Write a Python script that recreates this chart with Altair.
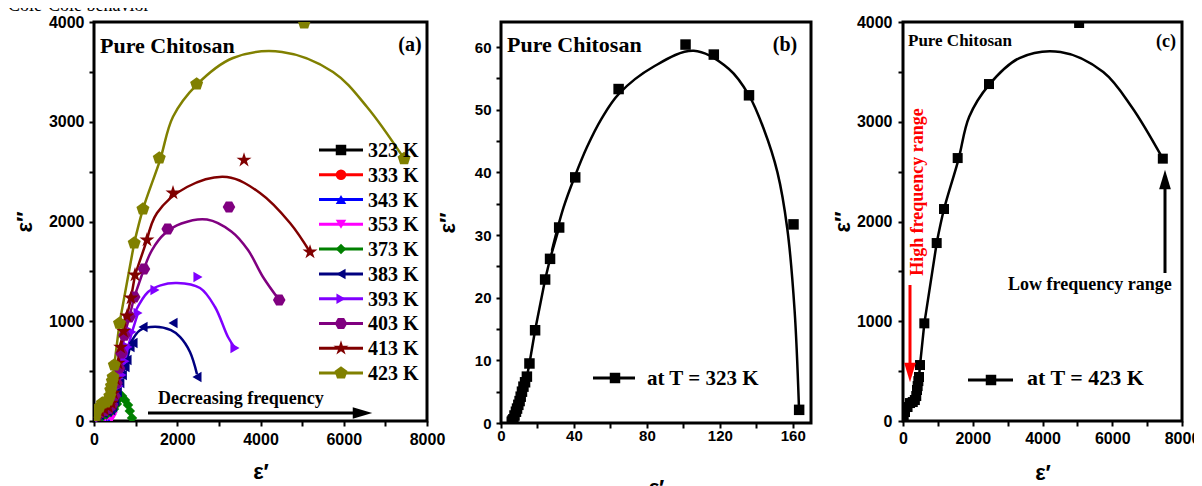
import altair as alt
import pandas as pd

# ---------------- categories / styles ----------------
TEMPS = ["323 K", "333 K", "343 K", "353 K", "373 K", "383 K", "393 K", "403 K", "413 K", "423 K"]
COLORS = ["#000000", "#ff0000", "#0000ff", "#ff00ff", "#008000", "#000080", "#8000ff", "#800080", "#800000", "#808000"]
HEX = "M1.2,0L0.6,1.04L-0.6,1.04L-1.2,0L-0.6,-1.04L0.6,-1.04Z"
STAR = ("M0,-1.5L0.34,-0.46L1.43,-0.46L0.54,0.18L0.88,1.21L0,0.57"
        "L-0.88,1.21L-0.54,0.18L-1.43,-0.46L-0.34,-0.46Z")
PENT = "M0,-1.3L1.24,-0.4L0.76,1.05L-0.76,1.05L-1.24,-0.4Z"
SHAPES = ["square", "circle", "triangle-up", "triangle-down", "diamond",
          "triangle-left", "triangle-right", HEX, STAR, PENT]

# ---------------- data (eps', eps'') ----------------
x323 = [5.9, 6.3, 6.8, 7.4, 8.2, 8.8, 9.5, 10.2, 10.8, 11.5, 12.3, 13.2, 14.2, 15.6, 18.7, 24.2, 26.9, 31.9,
        40.7, 64.5, 101.2, 116.7, 136.0, 160.4, 163.5]
y323 = [0.2, 0.4, 0.6, 1.2, 1.8, 2.3, 2.9, 3.5, 4.2, 5.0, 5.8, 6.5, 7.4, 9.5, 14.8, 22.9, 26.2, 31.2,
        39.2, 53.3, 60.4, 58.8, 52.3, 31.7, 2.1]
fx323 = [27.9, 34.3, 40.7, 47.1, 55.0, 64.5, 83.8, 105.7, 125.0, 136.0, 144.0, 151.6, 157.0, 161.0, 163.4]
fy323 = [27.5, 34.4, 39.5, 44.0, 48.5, 52.5, 56.9, 59.4, 56.5, 52.3, 47.0, 40.0, 31.0, 18.0, 2.5]

x333 = [15, 40, 80, 130, 180, 230, 280, 320, 345, 330]
y333 = [3, 8, 15, 22, 30, 38, 45, 50, 40, 25]
x343 = [15, 50, 100, 150, 200, 250, 290, 320, 300]
y343 = [3, 8, 14, 20, 27, 33, 38, 30, 15]
x353 = [20, 70, 130, 200, 270, 330, 380, 420, 440, 420]
y353 = [4, 10, 18, 26, 35, 45, 55, 60, 45, 25]
x373 = [20, 60, 120, 200, 300, 400, 480, 550, 620, 673, 745, 817, 860, 913]
y373 = [5, 15, 30, 45, 65, 90, 120, 170, 230, 250, 210, 160, 100, 30]

x383 = [20, 60, 130, 220, 320, 400, 450, 500, 560, 620, 680, 745, 793, 865, 937, 1177, 1898, 2474]
y383 = [8, 30, 60, 80, 95, 110, 140, 200, 290, 380, 460, 541, 611, 742, 782, 943, 982, 441]
fx383 = [865, 1105, 1465, 1850, 2066, 2306, 2474]
fy383 = [770, 910, 945, 910, 843, 692, 470]

x393 = [20, 60, 140, 240, 340, 420, 480, 540, 600, 673, 745, 817, 913, 1057, 1465, 2498, 3387]
y393 = [10, 35, 70, 95, 110, 130, 170, 250, 350, 461, 600, 742, 892, 1083, 1313, 1444, 732]
fx393 = [985, 1297, 1600, 1994, 2547, 2907, 3219, 3387]
fy393 = [1093, 1293, 1360, 1383, 1333, 1143, 842, 732]

x403 = [20, 60, 150, 250, 350, 430, 490, 540, 600, 660, 730, 850, 966, 1200, 1770, 3243, 4450]
y403 = [12, 45, 85, 105, 125, 160, 250, 380, 530, 680, 860, 1043, 1243, 1524, 1925, 2146, 1213]
fx403 = [1200, 1393, 1700, 2100, 2715, 3300, 3700, 4060, 4450]
fy403 = [1524, 1714, 1880, 1980, 2020, 1900, 1714, 1444, 1213]

x413 = [20, 60, 150, 250, 350, 420, 470, 520, 580, 640, 710, 793, 889, 985, 1273, 1898, 3604, 5190]
y413 = [15, 50, 95, 120, 140, 180, 280, 420, 580, 740, 900, 1053, 1233, 1464, 1815, 2286, 2616, 1694]
fx413 = [1273, 1514, 2234, 3195, 3988, 4709, 5190]
fy413 = [1815, 2085, 2346, 2446, 2286, 1985, 1694]

x423 = [20, 57, 130, 201, 280, 340, 380, 402, 420, 440, 459, 488, 612, 966, 1176, 1568, 2466, 5050, 7450]
y423 = [30, 90, 140, 180, 190, 210, 250, 311, 350, 400, 441, 561, 979, 1784, 2125, 2636, 3378, 3990, 2630]
fx423 = [966, 1177, 1586, 1898, 2466, 3339, 4516, 5742, 6559, 7450]
fy423 = [1784, 2125, 2616, 3050, 3370, 3639, 3700, 3499, 3148, 2630]

# (label, x, y, number of leading markers joined by straight segments, fit x, fit y)
SERIES = [
    ("323 K", x323, y323, 18, fx323, fy323),
    ("333 K", x333, y333, len(x333), [], []),
    ("343 K", x343, y343, len(x343), [], []),
    ("353 K", x353, y353, len(x353), [], []),
    ("373 K", x373, y373, len(x373), [], []),
    ("383 K", x383, y383, 14, fx383, fy383),
    ("393 K", x393, y393, 14, fx393, fy393),
    ("403 K", x403, y403, 14, fx403, fy403),
    ("413 K", x413, y413, 15, fx413, fy413),
    ("423 K", x423, y423, 14, fx423, fy423),
]


def rows(label, xs, ys):
    return pd.DataFrame({"T": [label] * len(xs), "x": xs, "y": ys, "i": list(range(len(xs)))})


def build(series):
    pts = pd.concat([rows(s[0], s[1], s[2]) for s in series], ignore_index=True)
    seg = pd.concat([rows(s[0], s[1][:s[3]], s[2][:s[3]]) for s in series], ignore_index=True)
    fit = pd.concat([rows(s[0], s[4], s[5]) for s in series if s[4]], ignore_index=True)
    return pts, seg, fit


SERIF = "Liberation Serif"
SANS = "Liberation Sans"

color_enc = alt.Color("T:N", scale=alt.Scale(domain=TEMPS, range=COLORS), legend=None)
shape_enc = alt.Shape("T:N", scale=alt.Scale(domain=TEMPS, range=SHAPES), legend=None)


def axis(step, major, top, title, lsize, lpad, tpad, tsize=22):
    n = int(round(top / step))
    values = [round(k * step, 6) for k in range(n + 1)]
    return alt.Axis(values=values, title=title, format="d",
                    labelExpr=f"datum.value % {major} == 0 ? datum.label : ''",
                    labelFont=SANS, labelFontWeight="bold",
                    labelFontSize=lsize, labelColor="black", labelPadding=lpad, labelFlush=False,
                    labelOverlap=False, titleFont=SANS, titleFontWeight="bold", titleFontSize=tsize,
                    titleColor="black", titlePadding=tpad, tickColor="black", tickWidth=2, tickSize=5,
                    domain=False, grid=False)


def text_layer(txt, x, y, size, color="black", align="left", angle=0, baseline="alphabetic", weight="bold"):
    d = pd.DataFrame({"t": [txt]})
    return alt.Chart(d).mark_text(font=SERIF, fontWeight=weight, fontSize=size, color=color, align=align,
                                  baseline=baseline, angle=angle).encode(
        x=alt.value(x), y=alt.value(y), text="t:N")


def arrow_h(x1, x2, y, color="black"):
    d = pd.DataFrame({"a": [0]})
    shaft = alt.Chart(d).mark_rule(color=color, strokeWidth=3).encode(
        x=alt.value(x1), x2=alt.value(x2 - 14), y=alt.value(y))
    head = alt.Chart(d).mark_point(filled=True, opacity=1, color=color, size=380,
                                   shape="M-1,-0.6L1,0L-1,0.6Z").encode(x=alt.value(x2 - 9.5), y=alt.value(y))
    return [shaft, head]


def arrow_v(x, y_from, y_tip, color="black"):
    d = pd.DataFrame({"a": [0]})
    down = y_tip > y_from
    base = y_tip - 14 if down else y_tip + 14
    shaft = alt.Chart(d).mark_rule(color=color, strokeWidth=3).encode(
        x=alt.value(x), y=alt.value(y_from), y2=alt.value(base))
    path = "M-0.6,-1L0,1L0.6,-1Z" if down else "M-0.6,1L0,-1L0.6,1Z"
    head = alt.Chart(d).mark_point(filled=True, opacity=1, color=color, size=380, shape=path).encode(
        x=alt.value(x), y=alt.value(y_tip - 9.5 if down else y_tip + 9.5))
    return [shaft, head]


FIT = "catmull-rom"

# ---------------- panel (a) ----------------
pts_a, seg_a, fit_a = build(SERIES)
xa = alt.X("x:Q", scale=alt.Scale(domain=[0, 8000], nice=False),
           axis=axis(1000, 2000, 8000, "ε′", 16, 5, 14))
ya = alt.Y("y:Q", scale=alt.Scale(domain=[0, 4000], nice=False),
           axis=axis(500, 1000, 4000, "ε″", 16, 5, 12))

seg_layer = alt.Chart(seg_a).mark_line(strokeWidth=2.5).encode(x=xa, y=ya, color=color_enc, order="i:Q")
fit_layer = alt.Chart(fit_a).mark_line(strokeWidth=2.5, interpolate=FIT).encode(
    x=xa, y=ya, color=color_enc, order="i:Q")
pt_layer = alt.Chart(pts_a).mark_point(filled=True, opacity=1, size=110, clip=True).encode(
    x=xa, y=ya, color=color_enc, shape=shape_enc)

leg_df = pd.DataFrame({"T": TEMPS})
ly = alt.Y("T:N", scale=alt.Scale(type="point", domain=TEMPS, range=[128, 351], padding=0), axis=None)
leg_rule = alt.Chart(leg_df).mark_rule(strokeWidth=3).encode(
    x=alt.value(225), x2=alt.value(269), y=ly, color=color_enc)
leg_pt = alt.Chart(leg_df).mark_point(filled=True, opacity=1, size=110).encode(
    x=alt.value(247), y=ly, color=color_enc, shape=shape_enc)
leg_txt = alt.Chart(leg_df).mark_text(font=SERIF, fontWeight="bold", fontSize=20, align="left",
                                      baseline="middle", color="black", dy=1).encode(
    x=alt.value(274), y=ly, text="T:N")

ann_a = [text_layer("Cole-Cole behavior", -86, -11, 18, weight="normal"),
         text_layer("Pure Chitosan", 6, 31, 22), text_layer("(a)", 316, 29, 20, align="center"),
         text_layer("Decreasing frequency", 64, 382, 18)] + arrow_h(54, 278, 391)

panel_a = alt.layer(
    alt.layer(seg_layer, fit_layer, pt_layer, *ann_a),
    alt.layer(leg_rule, leg_pt, leg_txt),
).resolve_scale(y="independent").properties(width=333, height=399)

# ---------------- panel (b) ----------------
pts_b, seg_b, fit_b = build([SERIES[0]])
xb = alt.X("x:Q", scale=alt.Scale(domain=[0, 170], nice=False),
           axis=axis(20, 40, 160, "ε′", 15, 0, 34))
yb = alt.Y("y:Q", scale=alt.Scale(domain=[0, 64], nice=False),
           axis=axis(5, 10, 60, "ε″", 15, 5, 15))
one = pd.DataFrame({"a": [0]})
panel_b = alt.layer(
    alt.Chart(seg_b).mark_line(strokeWidth=2.5, color="black").encode(x=xb, y=yb, order="i:Q"),
    alt.Chart(fit_b).mark_line(strokeWidth=2.5, color="black", interpolate=FIT).encode(
        x=xb, y=yb, order="i:Q"),
    alt.Chart(pts_b).mark_point(filled=True, opacity=1, size=110, shape="square", color="black",
                                clip=True).encode(x=xb, y=yb),
    alt.Chart(one).mark_rule(strokeWidth=3, color="black").encode(
        x=alt.value(92), x2=alt.value(134), y=alt.value(356)),
    alt.Chart(one).mark_point(filled=True, opacity=1, size=110, shape="square",
                              color="black").encode(x=alt.value(114), y=alt.value(356)),
    text_layer("at T = 323 K", 146, 363, 21),
    text_layer("Pure Chitosan", 6, 30, 22),
    text_layer("(b)", 284, 29, 20, align="center"),
).properties(width=310, height=401)

# ---------------- panel (c) ----------------
pts_c, seg_c, fit_c = build([SERIES[-1]])
xc = alt.X("x:Q", scale=alt.Scale(domain=[0, 8000], nice=False),
           axis=axis(1000, 2000, 8000, "ε′", 16, 4, 16))
yc = alt.Y("y:Q", scale=alt.Scale(domain=[0, 4000], nice=False),
           axis=axis(500, 1000, 4000, "ε″", 16, 6, 2))
panel_c = alt.layer(
    alt.Chart(seg_c).mark_line(strokeWidth=2.5, color="black").encode(x=xc, y=yc, order="i:Q"),
    alt.Chart(fit_c).mark_line(strokeWidth=2.5, color="black", interpolate=FIT).encode(
        x=xc, y=yc, order="i:Q"),
    alt.Chart(pts_c).mark_point(filled=True, opacity=1, size=100, shape="square", color="black",
                                clip=True).encode(x=xc, y=yc),
    alt.Chart(one).mark_rule(strokeWidth=3, color="black").encode(
        x=alt.value(65), x2=alt.value(110), y=alt.value(358)),
    alt.Chart(one).mark_point(filled=True, opacity=1, size=110, shape="square",
                              color="black").encode(x=alt.value(88), y=alt.value(358)),
    text_layer("at T = 423 K", 124, 363, 22),
    text_layer("Pure Chitosan", 5, 24, 17),
    text_layer("(c)", 263, 25, 18, align="center"),
    text_layer("High frequency range", 15, 170, 18, color="#ff0000", align="center", angle=270,
               baseline="middle"),
    text_layer("Low frequency range", 105, 268, 18),
    *arrow_v(7, 263, 360, "#ff0000"),
    *arrow_v(262, 251, 148, "black"),
).properties(width=279, height=399)

chart = alt.hconcat(
    panel_a,
    alt.hconcat(panel_b, panel_c, spacing=92, bounds="flush"),
    spacing=74, bounds="flush",
).properties(
    autosize=alt.AutoSizeParams(type="none"),
    padding={"left": 86, "top": 14, "right": 1100, "bottom": 464},
).configure_view(stroke="black", strokeWidth=3)

chart.save("out.html", embed_options={"renderer": "svg", "actions": False})
